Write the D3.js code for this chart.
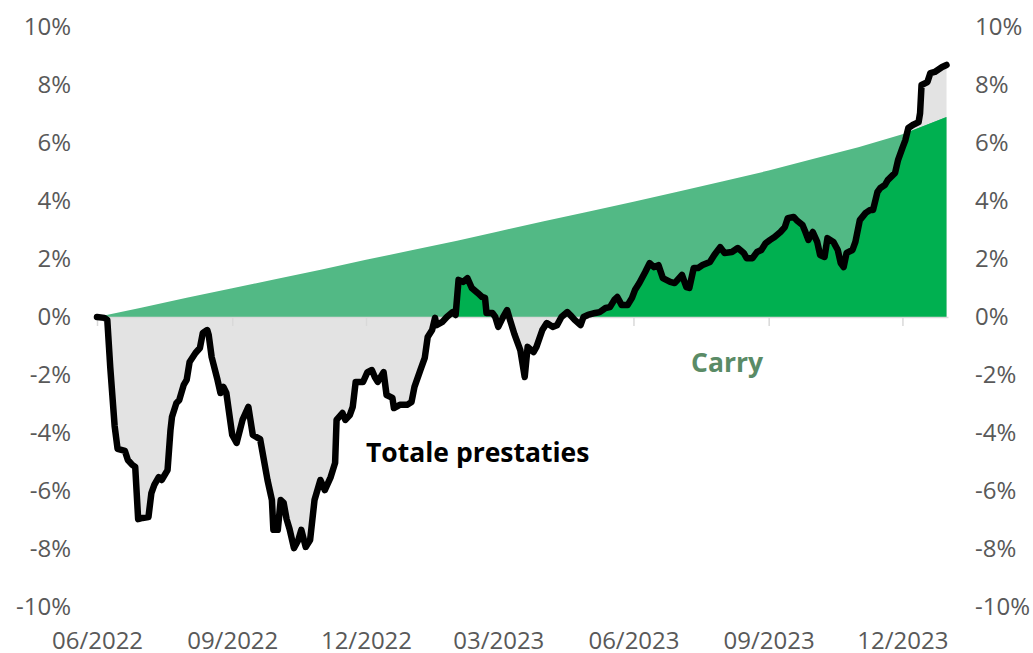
<!DOCTYPE html>
<html lang="nl">
<head>
	<meta charset="UTF-8">
	<title>Totale prestaties vs carry</title>
	<script src="https://cdn.jsdelivr.net/npm/d3@7/dist/d3.min.js"></script>
	<style>
		body{
			margin: 0;
			background: #fff;
		}

		text{
			font-family: "Open Sans", sans-serif;
		}

		.axis text{
			font-size: 24px;
			fill: #595959;
		}

		.zero path.domain,
		.zero .tick line{
			stroke: #d9d9d9;
			stroke-width: 1.5px;
		}

		.label{
			font-size: 26.5px;
			font-weight: 700;
		}
	</style>
</head>
<body>
	<svg id="chart" width="1033" height="653"></svg>

	<script type="text/javascript">
		// totale prestaties (%)
		var totaleDates = [
			"2022-06-01","2022-06-06","2022-06-08","2022-06-10","2022-06-13","2022-06-15","2022-06-20","2022-06-22","2022-06-25","2022-06-27","2022-06-29",
			"2022-07-02","2022-07-06","2022-07-08","2022-07-10","2022-07-13","2022-07-15","2022-07-19","2022-07-21","2022-07-22","2022-07-25","2022-07-27","2022-07-30",
			"2022-08-01","2022-08-03","2022-08-07","2022-08-10","2022-08-12","2022-08-15","2022-08-16","2022-08-18","2022-08-22","2022-08-24","2022-08-26","2022-08-28",
			"2022-09-01","2022-09-04","2022-09-08","2022-09-12","2022-09-15","2022-09-20","2022-09-25","2022-09-28","2022-09-29",
			"2022-10-02","2022-10-04","2022-10-06","2022-10-08","2022-10-10","2022-10-13","2022-10-16","2022-10-18","2022-10-21","2022-10-24","2022-10-27","2022-10-31",
			"2022-11-03","2022-11-07","2022-11-10","2022-11-11","2022-11-15","2022-11-17","2022-11-20","2022-11-22","2022-11-24","2022-11-29",
			"2022-12-02","2022-12-05","2022-12-07","2022-12-09","2022-12-13","2022-12-15","2022-12-19","2022-12-20","2022-12-24","2022-12-29",
			"2023-01-01","2023-01-03","2023-01-07","2023-01-10","2023-01-12","2023-01-15","2023-01-17","2023-01-18","2023-01-22","2023-01-25","2023-01-29","2023-01-31",
			"2023-02-02","2023-02-05","2023-02-08","2023-02-11","2023-02-15","2023-02-18","2023-02-20","2023-02-21","2023-02-25","2023-02-27",
			"2023-03-01","2023-03-04","2023-03-07","2023-03-09","2023-03-12","2023-03-16","2023-03-19","2023-03-21","2023-03-25","2023-03-27","2023-03-31",
			"2023-04-03","2023-04-07","2023-04-10","2023-04-13","2023-04-17","2023-04-19","2023-04-22","2023-04-26","2023-04-28",
			"2023-05-01","2023-05-06","2023-05-09","2023-05-13","2023-05-16","2023-05-19","2023-05-21","2023-05-24","2023-05-28","2023-05-31",
			"2023-06-02","2023-06-05","2023-06-09","2023-06-12","2023-06-15","2023-06-18","2023-06-21","2023-06-26","2023-06-29",
			"2023-07-04","2023-07-07","2023-07-09","2023-07-12","2023-07-15","2023-07-18","2023-07-23","2023-07-26","2023-07-30",
			"2023-08-02","2023-08-07","2023-08-11","2023-08-15","2023-08-17","2023-08-21","2023-08-24","2023-08-27","2023-08-30",
			"2023-09-02","2023-09-05","2023-09-09","2023-09-12","2023-09-14","2023-09-18","2023-09-20","2023-09-24","2023-09-26","2023-09-28",
			"2023-10-01","2023-10-04","2023-10-06","2023-10-09","2023-10-11","2023-10-15","2023-10-18","2023-10-20","2023-10-22","2023-10-24","2023-10-28","2023-10-30",
			"2023-11-02","2023-11-06","2023-11-09","2023-11-11","2023-11-14","2023-11-16","2023-11-19","2023-11-21","2023-11-26","2023-11-28",
			"2023-12-01","2023-12-03","2023-12-05","2023-12-08","2023-12-12","2023-12-13","2023-12-14","2023-12-18","2023-12-20","2023-12-23","2023-12-28","2023-12-31"
		];

		var totale = [
			0, -0.03, -0.10, -1.72, -3.76, -4.55, -4.62, -4.93, -5.10, -5.17, -6.97,
			-6.93, -6.90, -6.07, -5.79, -5.52, -5.62, -5.28, -3.90, -3.45, -2.97, -2.86, -2.34,
			-2.17, -1.55, -1.24, -1.07, -0.55, -0.45, -0.62, -1.38, -2.17, -2.62, -2.41, -2.62,
			-4.07, -4.34, -3.55, -3.10, -4.07, -4.21, -5.62, -6.31, -7.34,
			-7.34, -6.31, -6.41, -6.97, -7.31, -7.97, -7.69, -7.34, -7.93, -7.69, -6.31, -5.62,
			-5.97, -5.52, -5.03, -3.55, -3.31, -3.55, -3.38, -3.10, -2.24, -2.24,
			-1.90, -1.83, -2.07, -2.24, -1.90, -2.69, -2.79, -3.14, -3.03, -3.03,
			-2.93, -2.41, -1.83, -1.41, -0.69, -0.45, -0.03, -0.28, -0.17, 0.00, 0.17, 0.07,
			1.28, 1.21, 1.34, 1.00, 0.83, 0.69, 0.66, 0.14, 0.14, 0.00,
			-0.34, -0.03, 0.24, -0.10, -0.59, -1.14, -2.07, -1.03, -1.21, -1.03, -0.45,
			-0.21, -0.34, -0.28, 0.00, 0.17, 0.07, -0.10, -0.28, 0.00,
			0.07, 0.14, 0.17, 0.31, 0.34, 0.59, 0.69, 0.41, 0.41, 0.66,
			0.93, 1.17, 1.55, 1.86, 1.72, 1.79, 1.34, 1.21, 1.17,
			1.45, 1.03, 1.00, 1.69, 1.69, 1.79, 1.90, 2.14, 2.41,
			2.21, 2.24, 2.38, 2.21, 2.03, 2.03, 2.24, 2.31, 2.55,
			2.66, 2.76, 2.93, 3.10, 3.41, 3.45, 3.34, 3.17, 2.93, 2.66,
			2.93, 2.59, 2.14, 2.07, 2.72, 2.59, 2.31, 1.86, 1.72, 2.21, 2.31, 2.59,
			3.34, 3.59, 3.69, 3.69, 4.31, 4.45, 4.55, 4.72, 4.97, 5.41,
			5.83, 6.10, 6.52, 6.62, 6.72, 7.03, 8.00, 8.10, 8.41, 8.45, 8.62, 8.69
		];

		// carry (%), monthly
		var carryDates = ["2022-06-01","2022-07-01","2022-08-01","2022-09-01","2022-10-01","2022-11-01","2022-12-01",
			"2023-01-01","2023-02-01","2023-03-01","2023-04-01","2023-05-01","2023-06-01","2023-07-01",
			"2023-08-01","2023-09-01","2023-10-01","2023-11-01","2023-12-01","2023-12-31"];
		var carry = [0, 0.32, 0.66, 0.99, 1.31, 1.64, 1.97, 2.30, 2.63, 2.95, 3.30, 3.63, 3.97, 4.32, 4.68, 5.05, 5.45, 5.85, 6.30, 6.90];

		var xTicks = ["2022-06-01","2022-09-01","2022-12-01","2023-03-01","2023-06-01","2023-09-01","2023-12-01"];
		var yTicks = [-10, -8, -6, -4, -2, 0, 2, 4, 6, 8, 10];

		var parse = d3.timeParse("%Y-%m-%d");

		var totaleData = totaleDates.map(function(d, i){ return {date: parse(d), v: totale[i]}; });
		var carryData = carryDates.map(function(d, i){ return {date: parse(d), v: carry[i]}; });

		var svg = d3.select("#chart");

		var x = d3.scaleTime()
			.domain([parse("2022-06-01"), parse("2024-01-01")])
			.range([97, 948]);

		var y = d3.scaleLinear()
			.domain([-10, 10])
			.range([607, 27]);

		var area = d3.area()
			.x(function(d){ return x(d.date); })
			.y0(y(0))
			.y1(function(d){ return y(d.v); });

		var line = d3.line()
			.x(function(d){ return x(d.date); })
			.y(function(d){ return y(d.v); });

		svg.append("defs")
			.append("clipPath")
			.attr("id", "carryClip")
			.append("path")
			.attr("d", area(carryData));

		// grey: gap between 0 and total
		svg.append("path")
			.attr("d", area(totaleData))
			.attr("fill", "#e3e3e3");

		svg.append("path")
			.attr("d", area(carryData))
			.attr("fill", "#52b985");

		// bright green: part of the total that sits inside the carry
		svg.append("path")
			.attr("d", area(totaleData))
			.attr("fill", "#00b050")
			.attr("clip-path", "url(#carryClip)");

		svg.append("g")
			.attr("class", "axis zero")
			.attr("transform", "translate(0," + y(0) + ")")
			.call(d3.axisBottom(x)
				.tickValues(xTicks.map(parse))
				.tickSize(9)
				.tickSizeOuter(0)
				.tickFormat(""));

		svg.append("path")
			.attr("d", line(totaleData))
			.attr("fill", "none")
			.attr("stroke", "#000")
			.attr("stroke-width", 6.5)
			.attr("stroke-linejoin", "round")
			.attr("stroke-linecap", "round");

		var xLabels = svg.append("g")
			.attr("class", "axis")
			.attr("transform", "translate(0,641)")
			.call(d3.axisBottom(x)
				.tickValues(xTicks.map(parse))
				.tickSize(0)
				.tickPadding(0)
				.tickFormat(d3.timeFormat("%m/%Y")));
		xLabels.select(".domain").remove();
		xLabels.selectAll("text").attr("y", 0).attr("dy", "0.35em");

		var pct = function(d){ return d + "%"; };

		var yLeft = svg.append("g")
			.attr("class", "axis")
			.attr("transform", "translate(71,0)")
			.call(d3.axisLeft(y).tickValues(yTicks).tickSize(0).tickPadding(0).tickFormat(pct));
		yLeft.select(".domain").remove();

		var yRight = svg.append("g")
			.attr("class", "axis")
			.attr("transform", "translate(975,0)")
			.call(d3.axisRight(y).tickValues(yTicks).tickSize(0).tickPadding(0).tickFormat(pct));
		yRight.select(".domain").remove();

		svg.append("text")
			.attr("class", "label")
			.attr("x", 366)
			.attr("y", 462)
			.attr("fill", "#000")
			.text("Totale prestaties");

		svg.append("text")
			.attr("class", "label")
			.attr("x", 691)
			.attr("y", 372)
			.attr("fill", "#5a8b66")
			.text("Carry");
	</script>
</body>
</html>
